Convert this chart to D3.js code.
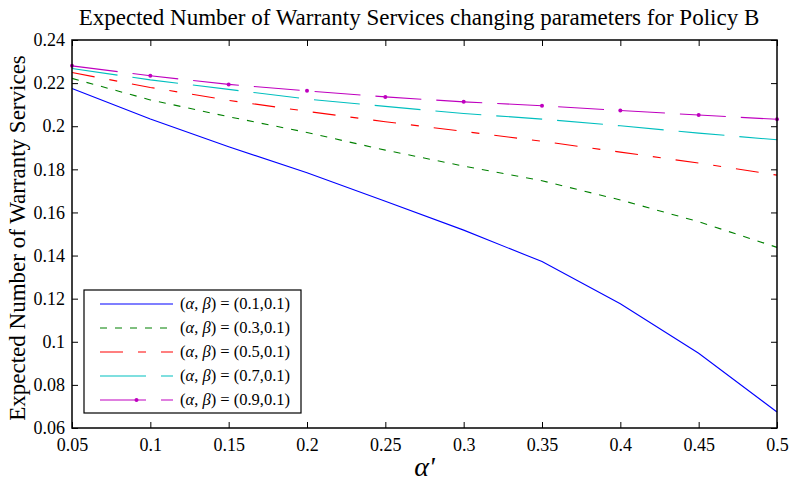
<!DOCTYPE html>
<html>
<head>
<meta charset="UTF-8">
<title>Policy B</title>
<script src="https://d3js.org/d3.v7.min.js"></script>
<style>
  body { margin: 0; background: #fff; }
  svg text { font-family: "Liberation Serif", "Times New Roman", serif; }
  .axis path { display: none; }
  .axis line { stroke: #000; stroke-width: 1; }
</style>
</head>
<body>
<script>
// values
var alphaPrime = [0.05, 0.1, 0.15, 0.2, 0.25, 0.3, 0.35, 0.4, 0.45, 0.5];
var s01 = [0.2175, 0.2033, 0.1905, 0.1784, 0.1652, 0.1518, 0.1372, 0.1176, 0.0947, 0.0674];
var s03 = [0.2222, 0.2122, 0.2044, 0.1971, 0.1889, 0.1815, 0.1747, 0.1658, 0.1557, 0.1438];
var s05 = [0.2249, 0.2180, 0.2120, 0.2069, 0.2021, 0.1976, 0.1930, 0.1880, 0.1829, 0.1773];
var s07 = [0.2268, 0.2215, 0.2171, 0.2126, 0.2092, 0.2059, 0.2033, 0.2002, 0.1968, 0.1937];
var s09 = [0.2280, 0.2234, 0.2194, 0.2164, 0.2136, 0.2113, 0.2095, 0.2073, 0.2052, 0.2032];
var seriesNames = ["(0.1,0.1)", "(0.3,0.1)", "(0.5,0.1)", "(0.7,0.1)", "(0.9,0.1)"];
var xTicks = [0.05, 0.1, 0.15, 0.2, 0.25, 0.3, 0.35, 0.4, 0.45, 0.5];
var yTicks = [0.06, 0.08, 0.1, 0.12, 0.14, 0.16, 0.18, 0.2, 0.22, 0.24];

var styles = [
    {color: "#0000ff", dash: null, marker: false},
    {color: "#008000", dash: "7,8", marker: false},
    {color: "#ff0000", dash: "23,15,8,15", marker: false},
    {color: "#00bfbf", dash: "46,15", marker: false},
    {color: "#bf00bf", dash: "46,15", marker: true}
];
var allSeries = [s01, s03, s05, s07, s09];

var margin = {top: 40, right: 12, bottom: 53, left: 72},
    width = 789 - margin.left - margin.right,
    height = 481 - margin.top - margin.bottom;

var svg = d3.select("body").append("svg")
    .attr("width", 789)
    .attr("height", 481);

var g = svg.append("g")
    .attr("transform", "translate(" + margin.left + "," + margin.top + ")");

var x = d3.scaleLinear().domain([0.05, 0.5]).range([0, width]);
var y = d3.scaleLinear().domain([0.06, 0.24]).range([height, 0]);

var fmt = function (d) { return String(+d.toFixed(2)); };

// axes, ticks pointing inwards on all four sides
var xb = g.append("g").attr("class", "axis")
    .attr("transform", "translate(0," + height + ")")
    .call(d3.axisBottom(x).tickValues(xTicks).tickFormat(fmt).tickSizeInner(-6).tickSizeOuter(0).tickPadding(10));
g.append("g").attr("class", "axis")
    .call(d3.axisTop(x).tickValues(xTicks).tickFormat("").tickSizeInner(-6).tickSizeOuter(0));
var yl = g.append("g").attr("class", "axis")
    .call(d3.axisLeft(y).tickValues(yTicks).tickFormat(fmt).tickSizeInner(-6).tickSizeOuter(0).tickPadding(7));
g.append("g").attr("class", "axis")
    .attr("transform", "translate(" + width + ",0)")
    .call(d3.axisRight(y).tickValues(yTicks).tickFormat("").tickSizeInner(-6).tickSizeOuter(0));

[xb, yl].forEach(function (a) {
    a.attr("font-family", null).attr("font-size", null);
    a.selectAll("text")
        .style("font-family", "'Liberation Serif', serif")
        .style("font-size", "18px")
        .attr("fill", "#000");
});

var line = d3.line()
    .x(function (d, i) { return x(alphaPrime[i]); })
    .y(function (d) { return y(d); });

allSeries.forEach(function (s, k) {
    var st = styles[k];
    g.append("path")
        .attr("d", line(s))
        .attr("fill", "none")
        .attr("stroke", st.color)
        .attr("stroke-width", 1.1)
        .attr("stroke-dasharray", st.dash);
    if (st.marker) {
        g.selectAll(".mk" + k).data(s).enter().append("circle")
            .attr("cx", function (d, i) { return x(alphaPrime[i]); })
            .attr("cy", function (d) { return y(d); })
            .attr("r", 2)
            .attr("fill", st.color);
    }
});

// frame
g.append("rect")
    .attr("width", width).attr("height", height)
    .attr("fill", "none").attr("stroke", "#000").attr("stroke-width", 1.5);

// title and axis labels
svg.append("text")
    .attr("x", 419).attr("y", 25)
    .attr("text-anchor", "middle")
    .style("font-size", "23px")
    .text("Expected Number of Warranty Services changing parameters for Policy B");

svg.append("text")
    .attr("transform", "translate(25," + (margin.top + height / 2 + 4) + ") rotate(-90)")
    .attr("text-anchor", "middle")
    .style("font-size", "23px")
    .text("Expected Number of Warranty Services");

svg.append("text")
    .attr("x", margin.left + width / 2).attr("y", 476)
    .attr("text-anchor", "middle")
    .style("font-size", "28px")
    .style("font-style", "italic")
    .text("α'");

// legend
var leg = svg.append("g").attr("transform", "translate(84,290)");
leg.append("rect")
    .attr("width", 217).attr("height", 123)
    .attr("fill", "#fff").attr("stroke", "#000").attr("stroke-width", 1.2);

seriesNames.forEach(function (name, k) {
    var st = styles[k];
    var ry = 14 + k * 24;
    leg.append("line")
        .attr("x1", 16).attr("x2", 89).attr("y1", ry).attr("y2", ry)
        .attr("stroke", st.color).attr("stroke-width", 1.1)
        .attr("stroke-dasharray", st.dash);
    if (st.marker) {
        leg.append("circle").attr("cx", 52.5).attr("cy", ry).attr("r", 2).attr("fill", st.color);
    }
    var t = leg.append("text")
        .attr("x", 96).attr("y", ry + 5)
        .style("font-size", "16.5px");
    t.append("tspan").text("(");
    t.append("tspan").style("font-style", "italic").text("α");
    t.append("tspan").text(", ");
    t.append("tspan").style("font-style", "italic").text("β");
    t.append("tspan").text(") = " + name);
});
</script>
</body>
</html>
